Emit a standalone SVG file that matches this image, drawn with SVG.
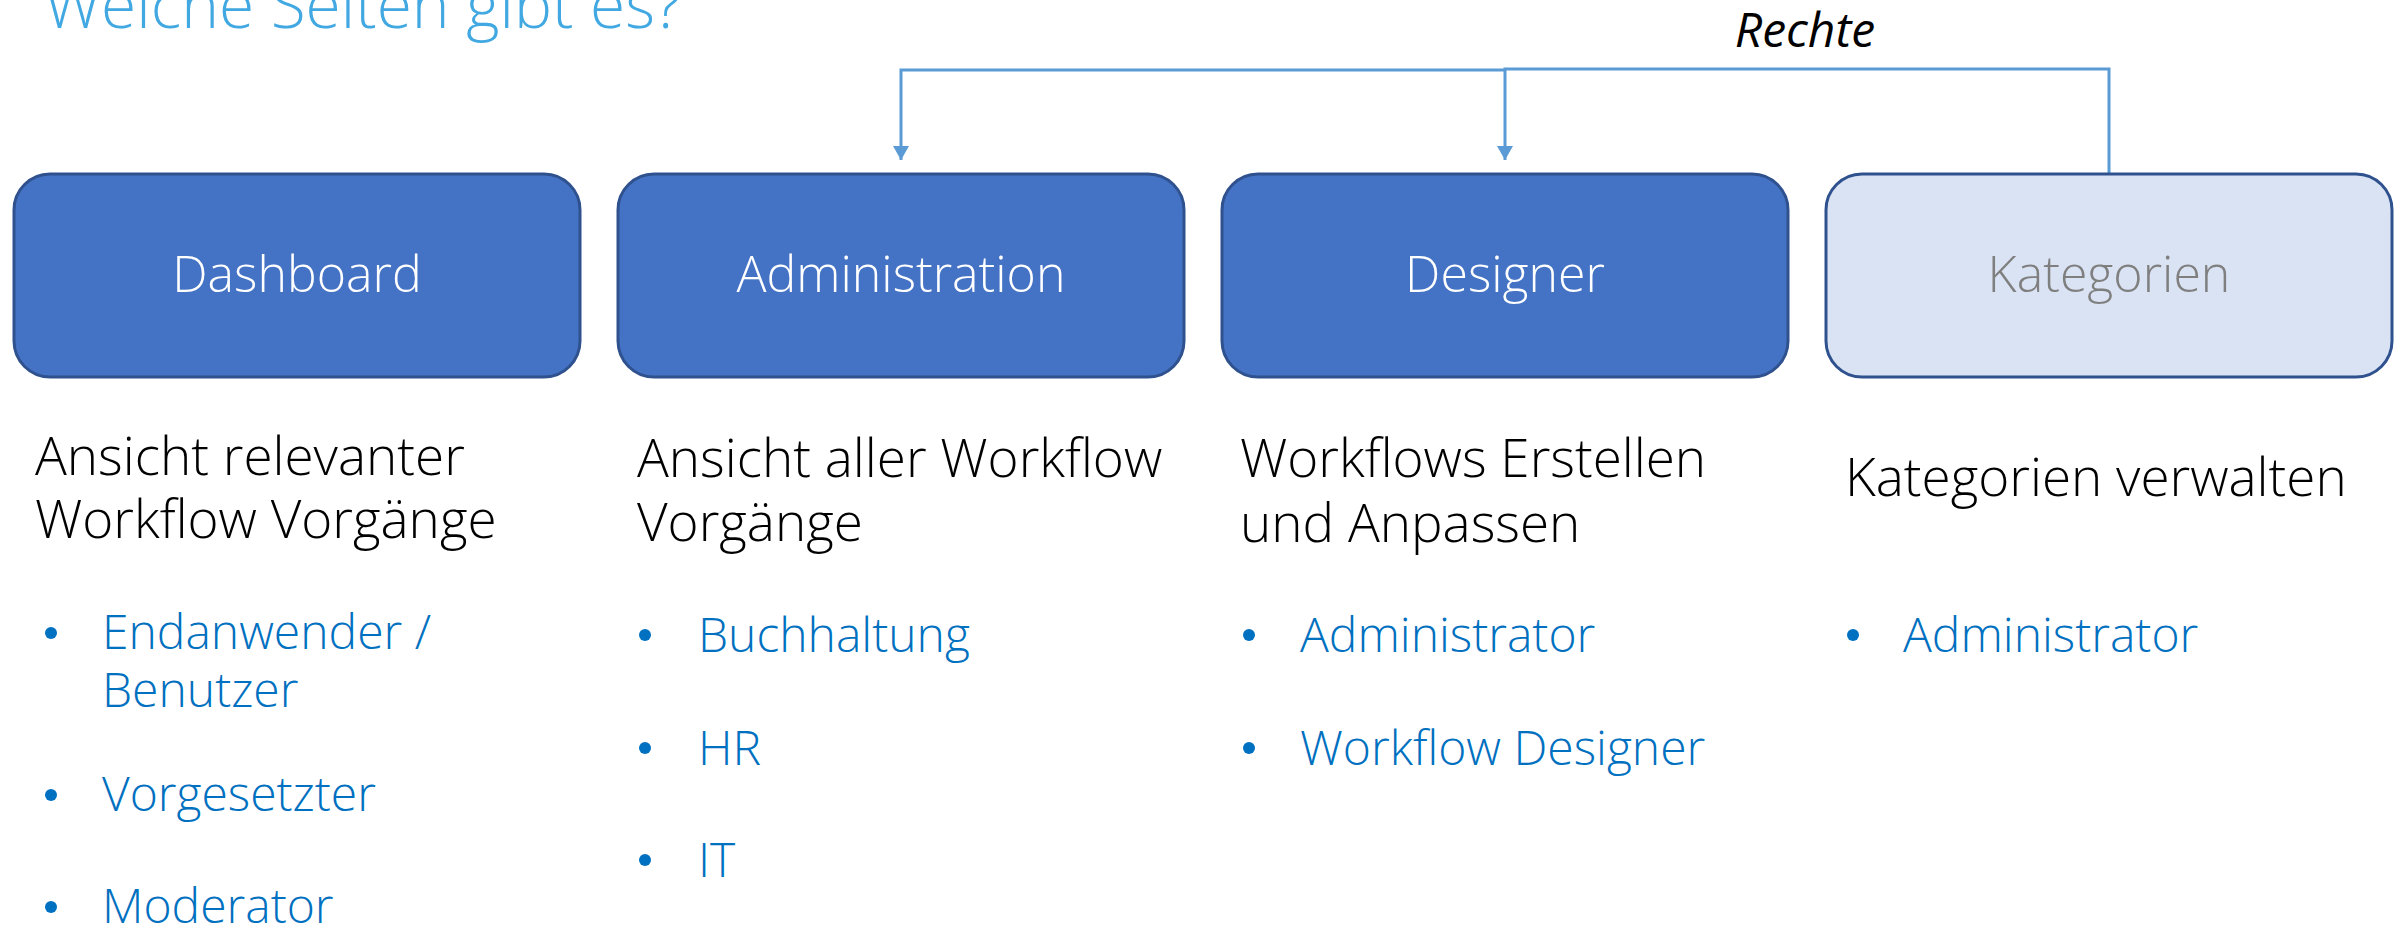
<svg xmlns="http://www.w3.org/2000/svg" width="2408" height="929" viewBox="0 0 2408 929">
<defs>
<style>
.t{font-family:"Open Sans","Liberation Sans",sans-serif;font-weight:300}
.title{font-size:64px;fill:#41A8E1}
.box{fill:#4472C4;stroke:#2F528F;stroke-width:3}
.boxl{fill:#DAE3F3;stroke:#2F528F;stroke-width:3}
.lbl{font-size:50px;fill:#FFFFFF;text-anchor:middle}
.lblg{font-size:50px;fill:#7F7F7F;text-anchor:middle}
.desc{font-size:53px;fill:#000000}
.item{font-size:48px;fill:#0070C0}
.bul{fill:#0070C0}
.con{fill:none;stroke:#5B9BD5;stroke-width:3}
.rechte{font-family:"Open Sans","Liberation Sans",sans-serif;font-style:italic;font-size:48px;fill:#000000;text-anchor:middle}
</style>
<marker id="arr" viewBox="0 0 16 14" refX="8" refY="14" markerWidth="16" markerHeight="14" markerUnits="userSpaceOnUse" orient="0">
<path d="M0,0 L16,0 L8,14 Z" fill="#5B9BD5"/>
</marker>
</defs>
<rect width="2408" height="929" fill="#FFFFFF"/>
<text class="t title" x="44" y="28">Welche Seiten gibt es?</text>
<text class="rechte" x="1805" y="47">Rechte</text>
<g id="connectors">
<path class="con" d="M2109,175 V69 H1505 V160" marker-end="url(#arr)"/>
<path class="con" d="M1505,70 H901 V160" marker-end="url(#arr)"/>
</g>
<g id="dashboard">
<rect class="box" x="14" y="174" width="566" height="203" rx="36" ry="36"/>
<text class="t lbl" x="297" y="292">Dashboard</text>
<text class="t desc" x="35" y="475">Ansicht relevanter</text>
<text class="t desc" x="35" y="538">Workflow Vorgänge</text>
<circle class="bul" cx="51" cy="633" r="6"/>
<text class="t item" x="102" y="649">Endanwender /</text>
<text class="t item" x="102" y="707">Benutzer</text>
<circle class="bul" cx="51" cy="795" r="6"/>
<text class="t item" x="102" y="811">Vorgesetzter</text>
<circle class="bul" cx="51" cy="907" r="6"/>
<text class="t item" x="102" y="923">Moderator</text>
</g>
<g id="administration">
<rect class="box" x="618" y="174" width="566" height="203" rx="36" ry="36"/>
<text class="t lbl" x="901" y="292">Administration</text>
<text class="t desc" x="637" y="477">Ansicht aller Workflow</text>
<text class="t desc" x="637" y="541">Vorgänge</text>
<circle class="bul" cx="645" cy="635" r="6"/>
<text class="t item" x="698" y="652">Buchhaltung</text>
<circle class="bul" cx="645" cy="748" r="6"/>
<text class="t item" x="698" y="765">HR</text>
<circle class="bul" cx="645" cy="860" r="6"/>
<text class="t item" x="698" y="877">IT</text>
</g>
<g id="designer">
<rect class="box" x="1222" y="174" width="566" height="203" rx="36" ry="36"/>
<text class="t lbl" x="1505" y="292">Designer</text>
<text class="t desc" x="1240" y="477">Workflows Erstellen</text>
<text class="t desc" x="1240" y="542">und Anpassen</text>
<circle class="bul" cx="1249" cy="635" r="6"/>
<text class="t item" x="1300" y="652">Administrator</text>
<circle class="bul" cx="1249" cy="748" r="6"/>
<text class="t item" x="1300" y="765">Workflow Designer</text>
</g>
<g id="kategorien">
<rect class="boxl" x="1826" y="174" width="566" height="203" rx="36" ry="36"/>
<text class="t lblg" x="2109" y="292">Kategorien</text>
<text class="t desc" x="1845" y="496">Kategorien verwalten</text>
<circle class="bul" cx="1853" cy="635" r="6"/>
<text class="t item" x="1903" y="652">Administrator</text>
</g>
</svg>
